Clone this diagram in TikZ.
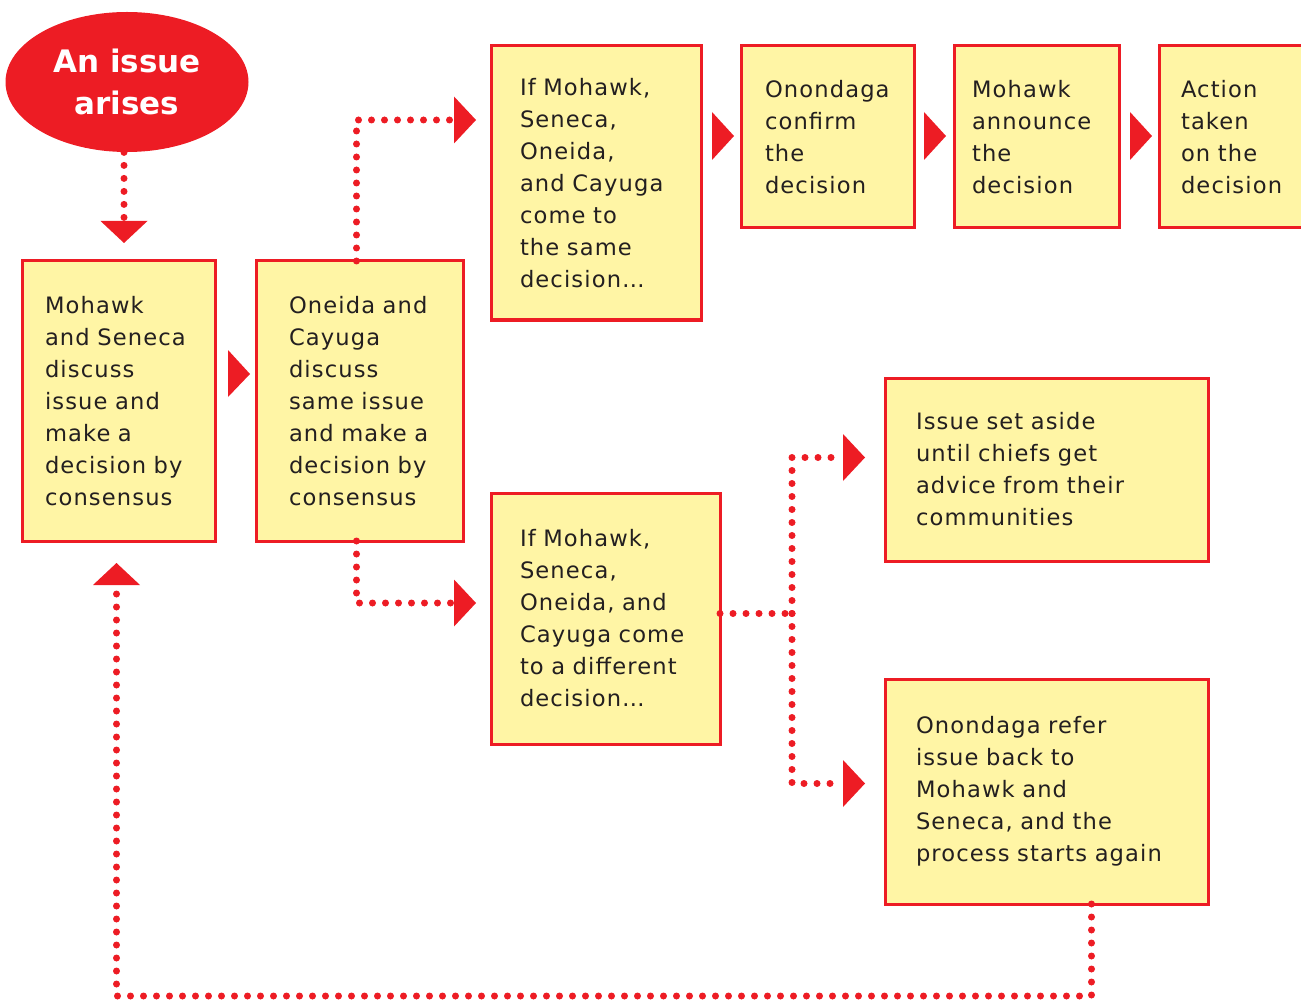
\documentclass[tikz,border=0pt]{standalone}
\usepackage{fontspec}
\setmainfont[LetterSpace=5]{DejaVu Sans}
\newfontfamily\headfont{DejaVu Sans}
\usetikzlibrary{shapes.geometric,arrows.meta,calc}
\definecolor{issuered}{HTML}{ED1C24}
\definecolor{boxyellow}{HTML}{FFF5A5}
\definecolor{inktext}{HTML}{231F20}
\hyphenpenalty=10000
\exhyphenpenalty=10000

\begin{document}
\begin{tikzpicture}[x=0.5pt,y=-0.5pt,
  box/.style={draw=issuered, fill=boxyellow, line width=1.5pt, anchor=north west,
    outer sep=0pt, inner ysep=0pt, text=inktext,
    font=\fontsize{11.3}{16}\selectfont,
    execute at begin node={\parindent=0pt\rightskip=0pt plus 1fil minus 40pt\relax}},
  dots/.style={issuered, line width=3.5pt, line cap=round, dash pattern=on 0pt off 6.5pt},
  link/.style={dots, -{Triangle[length=11pt,width=23.5pt,line width=0pt]}},
  head/.style={fill=issuered}]
\clip (0,0) rectangle (1301,1000);

% the issue
\node[ellipse, fill=issuered, minimum width=121.5pt, minimum height=70pt, inner sep=0pt,
  text=white, align=center, font=\headfont\bfseries\fontsize{15.5}{21}\selectfont]
  (issue) at (127,82) {An issue\\arises};

% boxes
\node[box, text width=73.5pt, inner xsep=11.5pt, minimum height=140pt] (ms) at (22,261)
  {Mohawk\\and Seneca\\discuss\\issue and\\make a\\decision by\\consensus};
\node[box, text width=70.5pt, inner xsep=16.5pt, minimum height=140pt] (oc) at (256,261)
  {Oneida and\\Cayuga\\discuss\\same issue\\and make a\\decision by\\consensus};
\node[box, text width=76pt, inner xsep=14.5pt, minimum height=137pt] (same) at (491,46)
  {If Mohawk,\\Seneca,\\Oneida,\\and Cayuga\\come to\\the same\\decision\ldots};
\node[box, text width=62.5pt, inner xsep=12pt, minimum height=91pt] (confirm) at (741,46)
  {Onondaga\\confirm\\the\\decision};
\node[box, text width=64.5pt, inner xsep=9pt, minimum height=91pt] (announce) at (954,46)
  {Mohawk\\announce\\the\\decision};
\node[box, text width=70pt, inner xsep=11pt, minimum height=91pt] (action) at (1159,46)
  {Action\\taken\\on the\\decision};
\node[box, text width=85.5pt, inner xsep=14.5pt, minimum height=125.5pt] (differ) at (491,493)
  {If Mohawk,\\Seneca,\\Oneida, and\\Cayuga come\\to a different\\decision\ldots};
\node[box, text width=130.5pt, inner xsep=15.5pt, minimum height=91.5pt] (aside) at (885,378)
  {Issue set aside\\until chiefs get\\advice from their\\communities};
\node[box, text width=130.5pt, inner xsep=15.5pt, minimum height=112.5pt] (refer) at (885,679)
  {Onondaga refer\\issue back to\\Mohawk and\\Seneca, and the\\process starts again};

% solid arrowheads between boxes
\fill[head] (228,350) -- (250,374) -- (228,397) -- cycle;
\fill[head] (712,112) -- (734,136) -- (712,160) -- cycle;
\fill[head] (924,112) -- (946,136) -- (924,160) -- cycle;
\fill[head] (1130,112) -- (1152,136) -- (1130,160) -- cycle;

% dotted links
\draw[link] ($(issue.south)+(-3,0)$) -- ($(issue.south |- ms.north)+(-3,-18)$);
\draw[link] ($(oc.north)+(-3,0)$) |- ($(same.north west)+(-15,74)$);
\draw[link] ($(oc.south)+(-3,0)$) |- ($(differ.north west)+(-15,110)$);
\draw[dots] ($(differ.east)+(0,-5)$) -- ++(72,0) coordinate (fork);
\draw[link] (fork) |- ($(aside.west)+(-20,-12)$);
\draw[link] (fork) |- ($(refer.west)+(-20,-8)$);
\draw[link] ($(refer.south)+(45,0)$) -- ++(0,92) -| ($(ms.south)+(-2,22)$);
\end{tikzpicture}
\end{document}
